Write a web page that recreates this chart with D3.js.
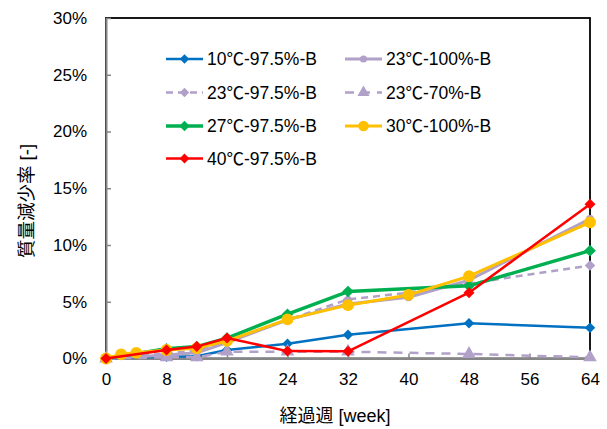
<!DOCTYPE html>
<html><head><meta charset="utf-8">
<script src="https://cdn.jsdelivr.net/npm/d3@7"></script>
<style>body{margin:0;background:#fff}svg{display:block}</style>
</head><body><svg id="c" width="607" height="429"></svg>
<script>
const xTicks = [0,8,16,24,32,40,48,56,64];
const yTicks = [0,5,10,15,20,25,30];
const seriesNames = ["10℃-97.5%-B","23℃-100%-B","23℃-97.5%-B","23℃-70%-B","27℃-97.5%-B","30℃-100%-B","40℃-97.5%-B"];
const weeks10 = [0,8,12,16,24,32,48,64];
const vals10 = [0,0.15,0.2,0.75,1.3,2.1,3.1,2.7];
const weeks23a = [0,8,12,16,24,32,40,48,64];
const vals23a = [0,0.3,0.5,1.4,3.4,4.8,5.4,6.9,12.3];
const weeks23b = [0,8,12,16,24,32,40,48,64];
const vals23b = [0,0.45,0.7,1.5,3.4,5.2,5.8,6.6,8.2];
const weeks23c = [0,8,12,16,24,32,48,64];
const vals23c = [0,0.1,0.1,0.6,0.6,0.6,0.4,0.1];
const weeks27 = [0,8,12,16,24,32,48,64];
const vals27 = [0,0.85,1.05,1.8,3.9,5.9,6.4,9.5];
const weeks30 = [0,2,4,8,12,16,24,32,40,48,64];
const vals30 = [0,0.37,0.5,0.75,0.9,1.55,3.45,4.7,5.6,7.25,12.0];
const weeks40 = [0,8,12,16,24,32,48,64];
const vals40 = [0,0.75,1.05,1.8,0.65,0.63,5.8,13.6];

const styles = [
  {color:"#0070C0", w:2.5, dash:null, marker:"diamond", ms:55},
  {color:"#B1A0C7", w:3, dash:null, marker:"circle", ms:50},
  {color:"#B1A0C7", w:2.5, dash:"7,5", marker:"diamond", ms:55},
  {color:"#B1A0C7", w:2.5, dash:"9,7", marker:"triangle", ms:80},
  {color:"#00B050", w:3.5, dash:null, marker:"diamond", ms:68},
  {color:"#FFC000", w:3, dash:null, marker:"circle", ms:110},
  {color:"#FF0000", w:2.5, dash:null, marker:"diamond", ms:60}
];
const allWeeks = [weeks10,weeks23a,weeks23b,weeks23c,weeks27,weeks30,weeks40];
const allVals = [vals10,vals23a,vals23b,vals23c,vals27,vals30,vals40];
const series = seriesNames.map((n,i)=>({name:n, style:styles[i], pts: allWeeks[i].map((w,j)=>({x:w,y:allVals[i][j]}))}));

const svg = d3.select("#c");
const L=106, R=590, T=18, B=358.5;
const x = d3.scaleLinear().domain([0,64]).range([L,R]);
const y = d3.scaleLinear().domain([0,30]).range([B,T]);
const font = "'Liberation Sans','Noto Sans CJK JP',sans-serif";
const symType = {diamond:d3.symbolSquare, circle:d3.symbolCircle, triangle:d3.symbolTriangle};
const rot = m => m==="diamond" ? " rotate(45)" : "";

// plot border
svg.append("rect").attr("x",L).attr("y",T).attr("width",R-L).attr("height",B-T)
  .attr("fill","none").attr("stroke","#000").attr("stroke-width",1.8);

// axes
const xAxis = d3.axisBottom(x).tickValues(xTicks).tickSizeInner(-5).tickSizeOuter(0).tickPadding(14);
const gx = svg.append("g").attr("transform",`translate(0,${B})`).call(xAxis);
const yAxis = d3.axisLeft(y).tickValues(yTicks).tickSizeInner(-5).tickSizeOuter(0).tickPadding(19).tickFormat(d=>d+"%");
const gy = svg.append("g").attr("transform",`translate(${L},0)`).call(yAxis);
[gx,gy].forEach(g=>{
  g.select(".domain").attr("stroke","#868686").attr("stroke-width",2);
  g.selectAll(".tick line").attr("stroke","#868686").attr("stroke-width",1.5);
  g.selectAll("text").attr("font-family",font).attr("font-size",17).attr("fill","#000");
});
gx.selectAll(".tick text").attr("dy","0.71em");

// lines
const line = d3.line().x(d=>x(d.x)).y(d=>y(d.y));
series.forEach(s=>{
  const g = svg.append("g");
  g.append("path").datum(s.pts).attr("d",line).attr("fill","none")
    .attr("stroke",s.style.color).attr("stroke-width",s.style.w)
    .attr("stroke-dasharray",s.style.dash).attr("stroke-linejoin","round");
  g.selectAll("path.m").data(s.pts).join("path").attr("class","m")
    .attr("d",d3.symbol().type(symType[s.style.marker]).size(s.style.ms))
    .attr("transform",d=>`translate(${x(d.x)},${y(d.y)})`+rot(s.style.marker))
    .attr("fill",s.style.color);
});

// legend
const legX = [166,345], legY = [59,92.5,126,158.5];
series.forEach((s,i)=>{
  const cx = legX[i%2], cy = legY[Math.floor(i/2)];
  const g = svg.append("g").attr("transform",`translate(${cx},${cy})`);
  g.append("line").attr("x1",0).attr("x2",37).attr("y1",0).attr("y2",0)
    .attr("stroke",s.style.color).attr("stroke-width",s.style.w)
    .attr("stroke-dasharray",s.style.dash);
  g.append("path").attr("d",d3.symbol().type(symType[s.style.marker]).size(s.style.ms*0.8))
    .attr("transform","translate(18.5,0)"+rot(s.style.marker)).attr("fill",s.style.color);
  g.append("text").attr("x",41).attr("y",0).attr("dy","0.36em")
    .attr("font-family",font).attr("font-size",17.5).attr("fill","#000").text(s.name);
});

// axis titles
svg.append("text").attr("x",335).attr("y",416).attr("dy","0.35em").attr("text-anchor","middle")
  .attr("font-family",font).attr("font-size",18).attr("fill","#000").text("経過週 [week]");
svg.append("text").attr("transform","translate(27,201) rotate(-90)").attr("dy","0.35em")
  .attr("text-anchor","middle").attr("font-family",font).attr("font-size",18.5).attr("fill","#000")
  .text("質量減少率 [-]");
</script></body></html>
